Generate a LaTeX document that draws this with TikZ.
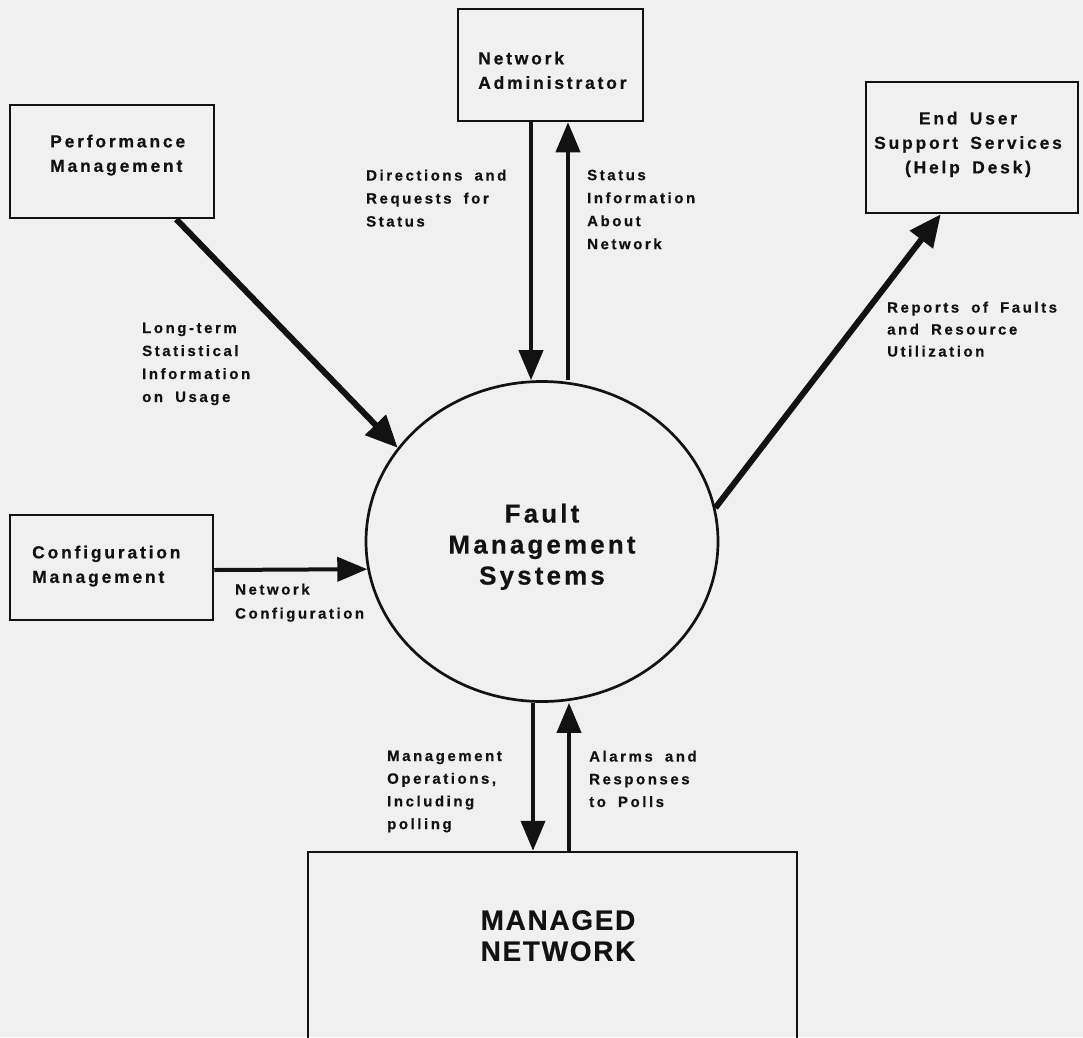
\documentclass[tikz,border=0pt]{standalone}
\usepackage{fontspec}
\setmainfont{Liberation Sans}
\newfontfamily\lblfont[LetterSpace=17,WordSpace=1.8,FakeBold=0.5]{Liberation Sans}
\newfontfamily\boxfont[LetterSpace=16,WordSpace=1.6,FakeBold=0.5]{Liberation Sans}
\newfontfamily\bigfont[LetterSpace=12,FakeBold=0.4]{Liberation Sans}
\newfontfamily\capfont[LetterSpace=6,FakeBold=0.4]{Liberation Sans}
\usetikzlibrary{arrows.meta,shapes.geometric}
\definecolor{paper}{RGB}{240,240,240}
\definecolor{ink}{RGB}{18,18,18}
\begin{document}
\begin{tikzpicture}[x=1pt,y=-1pt,
  box/.style={draw=ink,line width=2.5pt,rectangle,inner sep=0pt},
  flow/.style={draw=ink,line width=4pt,-{Triangle[length=30pt,width=24pt]}},
  bigflow/.style={draw=ink,line width=6pt,-{Triangle[length=32pt,width=28pt]}},
  lbl/.style={inner sep=0pt,anchor=north west,align=left,text=ink,
    font=\lblfont\bfseries\fontsize{15}{23}\selectfont},
  boxtxt/.style={inner sep=0pt,anchor=north west,align=left,text=ink,
    font=\boxfont\bfseries\fontsize{17.5}{24.5}\selectfont}]
\useasboundingbox (0,0) rectangle (1083,1037);
\clip (0,0) rectangle (1083,1037);
\fill[paper] (0,0) rectangle (1083,1037);

% boxes
\node[box,minimum width=204pt,minimum height=113pt] (perf) at (112,161.5) {};
\node[box,minimum width=185pt,minimum height=112pt] (adm) at (550.5,65) {};
\node[box,minimum width=212pt,minimum height=131pt] (eus) at (972,147.5) {};
\node[box,minimum width=203pt,minimum height=105pt] (cfg) at (111.5,567.5) {};
\node[box,minimum width=489pt,minimum height=218pt] (mn) at (552.5,961) {};
\node[draw=ink,line width=2.7pt,ellipse,inner sep=0pt,
      minimum width=352pt,minimum height=320pt] (fms) at (542,541.5) {};

% box texts
\node[boxtxt] (perft) at (50,134.5) {Performance\\Management};
\node[boxtxt] (admt) at (478,51.5) {Network\\Administrator};
\node[boxtxt,anchor=north,align=center] (eust) at (968,111.5) {End User\\Support Services\\(Help Desk)};
\node[boxtxt] (cfgt) at (32,545.5) {Configuration\\Management};
\node[inner sep=0pt,anchor=north,align=center,text=ink,
      font=\bigfont\bfseries\fontsize{26}{31}\selectfont] (fmst) at (542,503.5)
      {Fault\\Management\\Systems};
\node[inner sep=0pt,anchor=north,align=center,text=ink,
      font=\capfont\bfseries\fontsize{28}{31}\selectfont] (mnt) at (558,910)
      {MANAGED\\NETWORK};

% connectors
\draw[bigflow] ([xshift=-39pt]perf.south east) -- (fms.147);
\draw[flow] (adm.south -| 531,0) -- (fms.north -| 531,0);
\draw[flow] (fms.north -| 568,0) -- (adm.south -| 568,0);
\draw[bigflow] (fms.11) -- ([xshift=76pt]eus.south west);
\draw[flow] ([yshift=-2.5pt]cfg.east) -- (fms.189);
\draw[flow] (fms.south -| 533,0) -- (mn.north -| 533,0);
\draw[flow] (mn.north -| 569,0) -- (fms.south -| 569,0);

% connector labels
\node[lbl] (l1) at (142,322.5) {Long-term\\Statistical\\Information\\on Usage};
\node[lbl] (l2) at (366,169.5) {Directions and\\Requests for\\Status};
\node[lbl] (l3) at (587,169.5) {Status\\Information\\About\\Network};
\node[lbl,font=\lblfont\bfseries\fontsize{15}{22}\selectfont] (l4) at (887,301.5) {Reports of Faults\\and Resource\\Utilization};
\node[lbl,font=\lblfont\bfseries\fontsize{15}{24}\selectfont] (l5) at (235,583.5) {Network\\Configuration};
\node[lbl,font=\lblfont\bfseries\fontsize{15}{22.7}\selectfont] (l6) at (387,750.5) {Management\\Operations,\\Including\\polling};
\node[lbl,font=\lblfont\bfseries\fontsize{15}{22.7}\selectfont] (l7) at (589,750.5) {Alarms and\\Responses\\to Polls};
\end{tikzpicture}
\end{document}
